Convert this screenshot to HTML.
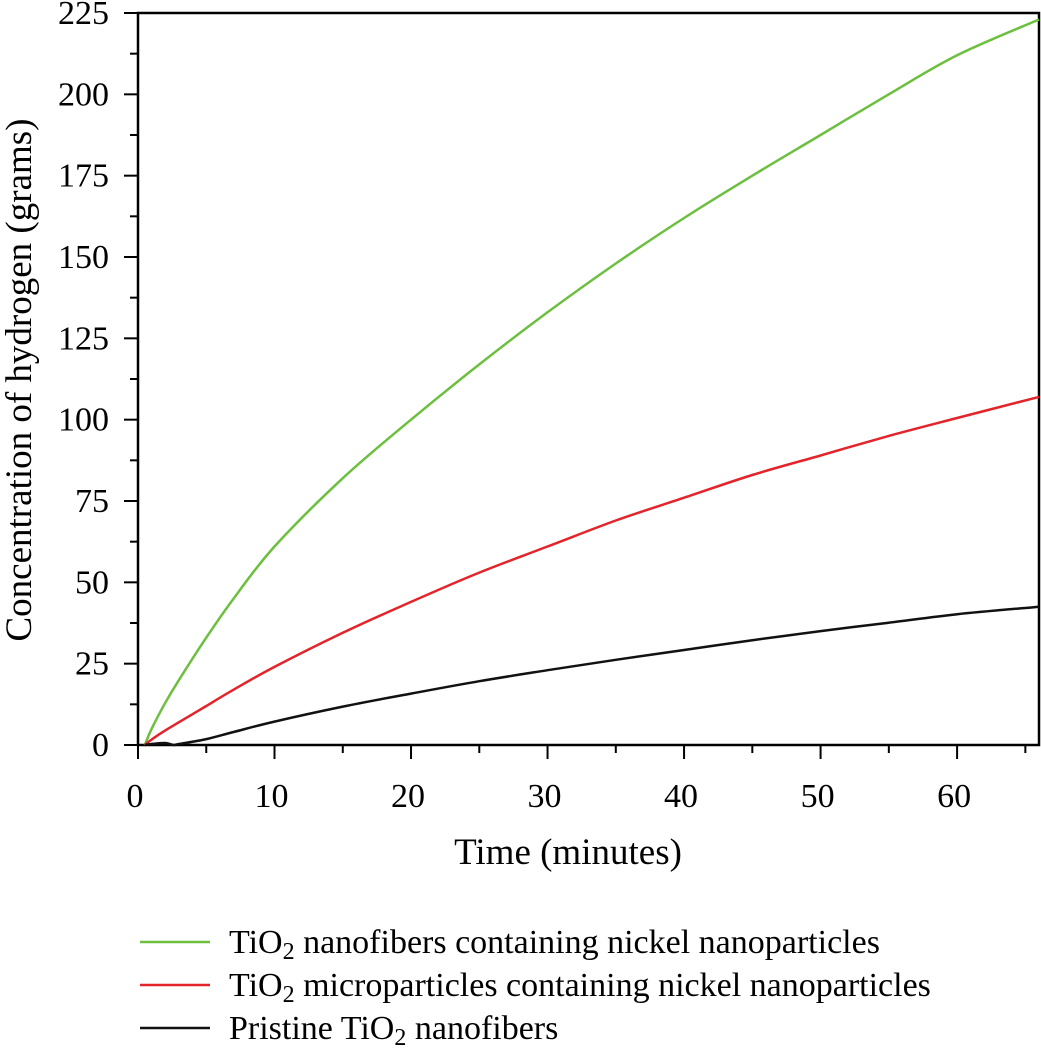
<!DOCTYPE html>
<html><head><meta charset="utf-8"><style>
body{margin:0;background:#fff}
svg text{font-family:"Liberation Serif",serif;fill:#000}
</style></head><body>
<svg width="1041" height="1050" id="c">
</svg>
<script>
const xTicks=[0,10,20,30,40,50,60];
const yTicks=[0,25,50,75,100,125,150,175,200,225];
const xs=[0.5,1,2,3,5,7,10,15,20,25,30,35,40,45,50,55,60,66];
const green=[0,5,13,20,33,45,61,82,100,117,133,148,162,175,187.5,200,212,223];
const red=[0,1.7,4.5,7,12,17,24,34.5,44,53,61,69,76,83,89,95,100.5,107];
const bx=[0.5,1,2,2.6,3,5,7,10,15,20,25,30,35,40,45,50,55,60,66];
const black=[0,0.3,0.6,0,0.3,1.8,4,7.2,11.8,15.8,19.6,23,26.2,29.2,32.2,35,37.6,40.2,42.5];
const L=138,R=1039,T=13,B=745,XMAX=66,YMAX=225;
const X=v=>L+(v/XMAX)*(R-L), Y=v=>B-(v/YMAX)*(B-T);
const svg=document.getElementById('c');const NS='http://www.w3.org/2000/svg';
function mk(t,a,p){const e=document.createElementNS(NS,t);for(const k in a)e.setAttribute(k,a[k]);(p||svg).appendChild(e);return e;}
let r=mk('rect',{x:L,y:T,width:R-L,height:B-T,fill:'none',stroke:'#000','stroke-width':2.5});


for(let v=0;v<=XMAX;v+=5){const major=v%10===0;let t=mk('line',{x1:X(v),x2:X(v),y1:B,y2:B+(major?14:8),stroke:'#000','stroke-width':2});

}
xTicks.forEach(v=>{let t=mk('text',{x:X(v)-3,y:B+62,'text-anchor':'middle','font-size':34});t.textContent=v;

});
for(let v=0;v<=YMAX;v+=12.5){const major=v%25===0;let t=mk('line',{x1:L,x2:L-(major?14:8),y1:Y(v),y2:Y(v),stroke:'#000','stroke-width':2});

}
yTicks.forEach(v=>{let t=mk('text',{x:L-29,y:Y(v)+11,'text-anchor':'end','font-size':34});t.textContent=v;

});
let xt=mk('text',{x:568,y:864,'text-anchor':'middle','font-size':37});xt.textContent='Time (minutes)';


let yt=mk('text',{x:0,y:0,'text-anchor':'middle','font-size':37,transform:'translate(31,380) rotate(-90)'});yt.textContent='Concentration of hydrogen (grams)';


function series(xv,yv,col,name){const P=xv.map((x,i)=>[X(x),Y(yv[i])]);
let d='M'+P[0][0].toFixed(1)+','+P[0][1].toFixed(1);
for(let i=0;i<P.length-1;i++){const p0=P[Math.max(0,i-1)],p1=P[i],p2=P[i+1],p3=P[Math.min(P.length-1,i+2)];
const c1=[p1[0]+(p2[0]-p0[0])/6,p1[1]+(p2[1]-p0[1])/6],c2=[p2[0]-(p3[0]-p1[0])/6,p2[1]-(p3[1]-p1[1])/6];
d+='C'+c1.map(n=>n.toFixed(1)).join(',')+' '+c2.map(n=>n.toFixed(1)).join(',')+' '+p2.map(n=>n.toFixed(1)).join(',');}
let p=mk('path',{d:d,fill:'none',stroke:col,'stroke-width':2.5,'stroke-linejoin':'round'});

}
series(xs,green,'#6cbf3f','series-nanofibers-nickel');
series(xs,red,'#e3242b','series-microparticles-nickel');
series(bx,black,'#111','series-pristine');
const leg=[['#6cbf3f','nanofibers containing nickel nanoparticles',942],['#e3242b','microparticles containing nickel nanoparticles',985],['#111','',1028]];
leg.forEach((l,i)=>{let g=mk('g',{});


mk('line',{x1:140,x2:210,y1:l[2],y2:l[2],stroke:l[0],'stroke-width':2.5},g);
let t=mk('text',{x:229,y:l[2]+11,'font-size':34},g);
if(i<2){t.innerHTML='TiO<tspan font-size="24" dy="6">2</tspan><tspan dy="-6"> '+l[1]+'</tspan>';}
else{t.innerHTML='Pristine TiO<tspan font-size="24" dy="6">2</tspan><tspan dy="-6"> nanofibers</tspan>';}});
</script>
</body></html>
